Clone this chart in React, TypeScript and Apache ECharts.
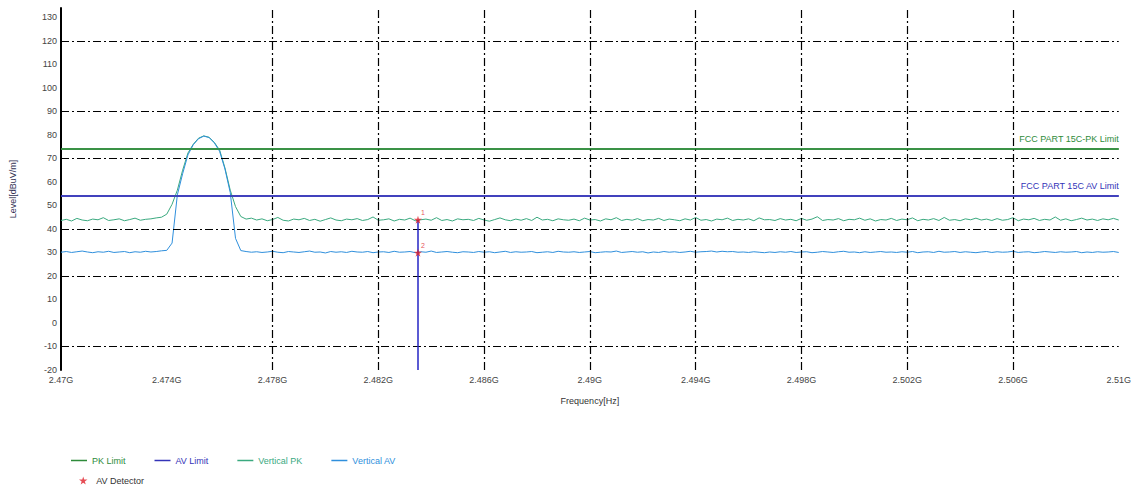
import React, { useEffect, useRef } from "react";
import * as echarts from "echarts";

// Sweep definition (MHz)
const SWEEP_START_MHZ = 2470;
const SWEEP_STEP_MHZ = 0.2;
const AXIS_MIN_MHZ = 2470;
const AXIS_MAX_MHZ = 2510;
const AXIS_STEP_MHZ = 4;

// Limits (dBuV/m)
const PK_LIMIT = 74;
const AV_LIMIT = 54;

// Vertical polarisation, peak detector trace (dBuV/m)
const PK_DBUV = [
  43.6, 44.1, 43.4, 44.5, 43.8, 43.5, 44.2, 43.9, 44.8, 43.6, 43.9, 44.3, 43.5, 44.0, 44.6, 43.7, 44.1,
  44.3, 44.7, 45.0, 46.3, 50.5, 56.5, 65.0, 72.3, 76.0, 78.6, 79.6, 79.0, 76.8, 73.5, 66.0, 56.5, 49.5, 45.3, 44.2, 44.6,
  43.8, 44.3, 43.5, 44.0, 44.9, 43.7, 43.4, 44.2, 43.9, 44.5, 43.6, 44.1, 43.3, 44.0, 44.7, 43.8, 43.5, 44.2, 43.9, 44.4,
  43.6, 44.0, 45.1, 43.7, 43.9, 44.3, 43.4, 44.1, 43.8, 44.6, 43.5, 43.9, 44.2, 43.7, 44.8, 43.6, 44.0, 43.4, 44.3, 43.9,
  44.1, 43.6, 44.5, 43.8, 43.3, 44.0, 44.7, 43.9, 43.5, 44.2, 43.7, 44.4, 43.6, 45.0, 43.8, 44.1, 43.5, 44.3, 43.9, 43.7,
  44.2, 43.5, 44.6, 43.8, 44.0, 43.4, 44.3, 43.9, 44.8, 43.6, 44.1, 43.7, 44.4, 43.5, 44.0, 43.8, 44.5, 43.6, 44.2, 43.9,
  43.5, 44.3, 43.8, 44.9, 43.7, 44.0, 43.4, 44.2, 43.9, 44.6, 43.6, 44.1, 43.8, 44.3, 43.5, 44.7, 43.9, 44.0, 43.6, 44.4,
  43.8, 44.1, 43.5, 44.5, 43.7, 44.2, 45.2, 43.6, 44.0, 43.8, 44.4, 43.5, 44.1, 43.9, 44.6, 43.7, 44.3, 43.4, 44.0, 43.8,
  44.5, 43.6, 44.2, 43.9, 44.7, 43.5, 44.1, 43.8, 44.4, 43.6, 44.9, 43.7, 44.0, 43.5, 44.3, 43.9, 44.6, 43.8, 44.2, 43.6,
  44.4, 43.7, 44.0, 44.8, 43.5, 44.2, 43.9, 44.5, 43.6, 44.1, 43.8, 45.1, 43.7, 44.3, 43.5, 44.0, 44.6, 43.8, 44.2, 43.6,
  44.3, 43.9, 44.5, 43.8,
];

// Vertical polarisation, average detector trace (dBuV/m)
const AV_DBUV = [
  30.1, 30.4, 30.0, 30.3, 30.6, 30.2, 29.9, 30.3, 30.1, 30.5, 30.0, 30.2, 30.4, 29.9, 30.3, 30.1, 30.5, 30.2, 30.4, 30.7,
  30.9, 34.0, 54.5, 63.5, 71.5, 75.8, 78.4, 79.5, 78.9, 76.6, 73.0, 65.5, 55.5, 36.0, 30.8, 30.4, 30.1,
  30.3, 30.0, 30.2, 30.5, 30.1, 29.9, 30.4, 30.2, 30.0, 30.3, 30.6, 30.1, 30.2, 29.8, 30.4, 30.1, 30.3, 30.0, 30.5, 30.2,
  30.1, 30.4, 29.9, 30.2, 30.3, 30.0, 30.5, 30.1, 30.2, 30.4, 29.9, 30.3, 30.1, 30.6, 30.0, 30.2, 30.4, 30.1, 29.9, 30.3,
  30.2, 30.0, 30.4, 30.1, 30.3, 29.9, 30.2, 30.5, 30.0, 30.3, 30.1, 30.2, 30.4, 29.9, 30.1, 30.3, 30.0, 30.5, 30.2, 30.1,
  30.3, 30.0, 30.2, 30.4, 29.9, 30.1, 30.3, 30.2, 30.6, 30.0, 30.2, 30.4, 30.1, 30.3, 29.8, 30.2, 30.0, 30.4, 30.1, 30.3,
  30.0, 30.2, 30.5, 30.1, 30.3, 30.4, 30.6, 30.2, 30.5, 30.3, 30.4, 30.1, 30.2, 30.0, 30.3, 30.1, 29.9, 30.2, 30.0, 30.3,
  30.1, 30.4, 30.0, 30.2, 30.3, 29.9, 30.1, 30.4, 30.2, 30.0, 30.3, 30.5, 30.1, 30.2, 29.9, 30.3, 30.0, 30.2, 30.4, 30.1,
  30.2, 30.0, 30.3, 30.1, 30.4, 29.9, 30.2, 30.3, 30.0, 30.5, 30.1, 30.2, 30.4, 30.0, 30.3, 30.1, 29.9, 30.2, 30.4, 30.0,
  30.3, 30.1, 30.2, 30.5, 30.0, 30.2, 30.3, 29.9, 30.1, 30.4, 30.2, 30.0, 30.3, 30.1, 30.2, 30.4, 29.9, 30.2, 30.0, 30.3,
  30.1, 30.2, 30.4, 30.0,
];

// Detector markers at the band edge
const MARKER_NAMES = ["1", "2"];
const MARKER_FREQ_MHZ = [2483.5, 2483.5];
const MARKER_LEVEL = [43.9, 29.9];

// Dash-dot reference grid
const GRID_LEVELS = [120, 90, 70, 40, 20, -10];
const GRID_FREQS_MHZ = [2478, 2482, 2486, 2490, 2494, 2498, 2502, 2506];

const Y_MIN = -20;
const Y_MAX = 134;

const C_PK_LIMIT = "#2e8b3a";
const C_AV_LIMIT = "#3434b8";
const C_PK = "#3aa97f";
const C_AV = "#2f8fdc";
const C_MARK = "#e0202a";
const C_MARK_LINE = "#2424c4";

const FONT = "Liberation Sans, Arial, sans-serif";
const STAR =
  "path://M50,0 L61,35 L98,35 L68,57 L79,91 L50,70 L21,91 L32,57 L2,35 L39,35 Z";

const toX = (mhz: number) => mhz - AXIS_MIN_MHZ;
const sweep = (vals: number[]) =>
  vals.map((v, i) => [toX(SWEEP_START_MHZ + i * SWEEP_STEP_MHZ), v]);

const fmtFreq = (v: number) => {
  const ghz = (AXIS_MIN_MHZ + v) / 1000;
  return parseFloat(ghz.toFixed(3)) + "G";
};

const buildOption = (): echarts.EChartsCoreOption => ({
  animation: false,
  backgroundColor: "#ffffff",
  textStyle: { fontFamily: FONT },
  grid: { left: 58, right: 13, top: 8, bottom: 118 },
  legend: [
    {
      left: 66,
      top: 451,
      icon: "rect",
      itemWidth: 16,
      itemHeight: 1.5,
      itemGap: 29,
      textStyle: { fontSize: 9, fontFamily: FONT },
      data: [
        { name: "PK Limit", textStyle: { color: C_PK_LIMIT } },
        { name: "AV Limit", textStyle: { color: C_AV_LIMIT } },
        { name: "Vertical PK", textStyle: { color: C_PK } },
        { name: "Vertical AV", textStyle: { color: C_AV } },
      ],
    },
    {
      left: 74,
      top: 471,
      itemWidth: 10,
      itemHeight: 8,
      itemGap: 8,
      textStyle: { fontSize: 9, fontFamily: FONT, color: "#333", padding: [0, 0, 0, 3] },
      data: [{ name: "AV Detector", icon: STAR }],
    },
  ],
  xAxis: {
    type: "value",
    min: toX(AXIS_MIN_MHZ),
    max: toX(AXIS_MAX_MHZ),
    interval: AXIS_STEP_MHZ,
    name: "Frequency[Hz]",
    nameLocation: "middle",
    nameGap: 26,
    nameTextStyle: { fontSize: 9, color: "#333", fontFamily: FONT },
    axisLine: { show: false },
    axisTick: { show: false },
    splitLine: { show: false },
    axisLabel: {
      fontSize: 9,
      color: "#444",
      margin: 5,
      formatter: fmtFreq,
    },
  },
  yAxis: {
    type: "value",
    min: Y_MIN,
    max: Y_MAX,
    interval: 10,
    name: "Level[dBuV/m]",
    nameLocation: "middle",
    nameGap: 44,
    nameTextStyle: { fontSize: 9, color: "#335", fontFamily: FONT },
    axisLine: { show: true, lineStyle: { color: "#000", width: 2 } },
    axisTick: { show: false },
    splitLine: { show: false },
    axisLabel: {
      fontSize: 9,
      color: "#444",
      margin: 4,
      formatter: (v: number) => (v % 10 === 0 && v <= 130 ? String(v) : ""),
    },
  },
  series: [
    {
      name: "reference grid",
      type: "line",
      data: [],
      silent: true,
      z: 1,
      markLine: {
        silent: true,
        symbol: "none",
        label: { show: false },
        lineStyle: { color: "#000", width: 1.2, type: [8, 3, 2, 3] },
        data: [
          ...GRID_LEVELS.map((v) => ({ yAxis: v })),
          ...GRID_FREQS_MHZ.map((f) => ({ xAxis: toX(f) })),
        ],
      },
    },
    {
      name: "PK Limit",
      type: "line",
      symbol: "none",
      color: C_PK_LIMIT,
      lineStyle: { color: C_PK_LIMIT, width: 1.5 },
      data: [
        [toX(AXIS_MIN_MHZ), PK_LIMIT],
        [toX(AXIS_MAX_MHZ), PK_LIMIT],
      ],
      z: 3,
      markLine: {
        silent: true,
        symbol: "none",
        lineStyle: { color: C_PK_LIMIT, width: 1.5, type: "solid" },
        label: {
          show: true,
          position: "insideEndTop",
          formatter: "FCC PART 15C-PK Limit",
          color: C_PK_LIMIT,
          fontSize: 9,
          fontFamily: FONT,
          distance: [0, 6],
        },
        data: [{ yAxis: PK_LIMIT }],
      },
    },
    {
      name: "AV Limit",
      type: "line",
      symbol: "none",
      color: C_AV_LIMIT,
      lineStyle: { color: C_AV_LIMIT, width: 1.5 },
      data: [
        [toX(AXIS_MIN_MHZ), AV_LIMIT],
        [toX(AXIS_MAX_MHZ), AV_LIMIT],
      ],
      z: 3,
      markLine: {
        silent: true,
        symbol: "none",
        lineStyle: { color: C_AV_LIMIT, width: 1.5, type: "solid" },
        label: {
          show: true,
          position: "insideEndTop",
          formatter: "FCC PART 15C AV Limit",
          color: C_AV_LIMIT,
          fontSize: 9,
          fontFamily: FONT,
          distance: [0, 6],
        },
        data: [{ yAxis: AV_LIMIT }],
      },
    },
    {
      name: "Vertical PK",
      type: "line",
      symbol: "none",
      color: C_PK,
      lineStyle: { color: C_PK, width: 1 },
      data: sweep(PK_DBUV),
      z: 4,
    },
    {
      name: "Vertical AV",
      type: "line",
      symbol: "none",
      color: C_AV,
      lineStyle: { color: C_AV, width: 1 },
      data: sweep(AV_DBUV),
      z: 4,
    },
    {
      name: "AV Detector",
      type: "scatter",
      symbol: STAR,
      symbolSize: 8,
      color: C_MARK,
      z: 6,
      label: {
        show: true,
        position: [7, -7],
        color: C_MARK,
        fontSize: 7,
        fontFamily: FONT,
        formatter: (p: any) => MARKER_NAMES[p.dataIndex],
      },
      data: MARKER_FREQ_MHZ.map((f, i) => [toX(f), MARKER_LEVEL[i]]),
      markLine: {
        silent: true,
        symbol: "none",
        label: { show: false },
        lineStyle: { color: C_MARK_LINE, width: 1.5, type: "solid" },
        data: [
          [
            { coord: [toX(MARKER_FREQ_MHZ[0]), MARKER_LEVEL[0]] },
            { coord: [toX(MARKER_FREQ_MHZ[0]), Y_MIN] },
          ],
        ],
      },
    },
  ],
});

export default function App() {
  const ref = useRef<HTMLDivElement>(null);

  useEffect(() => {
    if (!ref.current) return;
    const chart = echarts.init(ref.current, null, { renderer: "svg" });
    chart.setOption(buildOption());
    return () => chart.dispose();
  }, []);

  return (
    <div
      ref={ref}
      style={{
        position: "fixed",
        left: 0,
        top: 0,
        width: 1134,
        height: 488,
        background: "#fff",
      }}
    />
  );
}
